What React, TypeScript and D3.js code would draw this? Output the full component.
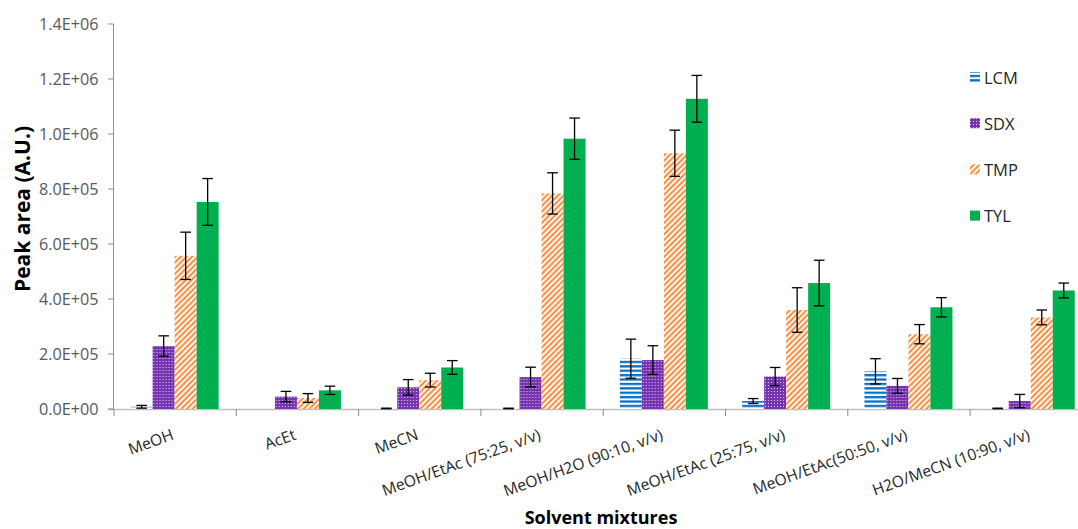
import React from "react";
import * as d3 from "d3";

// Solvent mixtures tested and the four analytes measured in each
const categories = [
  "MeOH",
  "AcEt",
  "MeCN",
  "MeOH/EtAc (75:25, v/v)",
  "MeOH/H2O (90:10, v/v)",
  "MeOH/EtAc (25:75, v/v)",
  "MeOH/EtAc(50:50, v/v)",
  "H2O/MeCN (10:90, v/v)",
];
const seriesNames = ["LCM", "SDX", "TMP", "TYL"];

// Mean peak areas (A.U.) per solvent mixture
const lcmValues = [8000, 0, 2000, 2000, 183000, 29000, 137000, 2000];
const sdxValues = [229000, 45000, 79000, 116000, 178000, 118000, 84000, 29000];
const tmpValues = [557000, 40000, 105000, 784000, 930000, 360000, 272000, 333000];
const tylValues = [753000, 68000, 151000, 983000, 1128000, 458000, 370000, 431000];

// Standard deviations (error bars)
const lcmErrors = [5000, 0, 1000, 1000, 71000, 9000, 46000, 1000];
const sdxErrors = [37000, 19000, 28000, 36000, 52000, 33000, 27000, 24000];
const tmpErrors = [86000, 16000, 25000, 75000, 84000, 81000, 35000, 27000];
const tylErrors = [85000, 15000, 25000, 75000, 85000, 83000, 35000, 27000];

const yTicks = [0, 200000, 400000, 600000, 800000, 1000000, 1200000, 1400000];

const seriesValues = [lcmValues, sdxValues, tmpValues, tylValues];
const seriesErrors = [lcmErrors, sdxErrors, tmpErrors, tylErrors];
const fills = ["url(#pat-lcm)", "url(#pat-sdx)", "url(#pat-tmp)", "#00b050"];

const WIDTH = 1078;
const HEIGHT = 529;
const left = 113.5;
const bottom = 409;
const top = 24;
const step = 122.3;

const FONT = "'Open Sans', 'Liberation Sans', sans-serif";

function sci(v: number): string {
  const [m, e] = v.toExponential(1).split("e");
  const sign = e[0] === "-" ? "-" : "+";
  const digits = e.replace(/[+-]/, "").padStart(2, "0");
  return `${m}E${sign}${digits}`;
}

export default function App() {
  const x = d3
    .scaleBand<string>()
    .domain(categories)
    .range([left, left + step * categories.length])
    .padding(0);
  const inner = d3
    .scaleBand<string>()
    .domain(seriesNames)
    .range([0, x.bandwidth()])
    .paddingInner(0)
    .paddingOuter(0.78);
  const y = d3.scaleLinear().domain([0, 1400000]).range([bottom, top]);
  const capHalf = 5.3;

  return (
    <svg
      width={WIDTH}
      height={HEIGHT}
      style={{ position: "absolute", left: 0, top: 0, background: "#fff" }}
    >
      <defs>
        <pattern id="pat-lcm" patternUnits="userSpaceOnUse" width={4} height={4.4}>
          <rect width={4} height={4.4} fill="#ffffff" />
          <rect width={4} height={2.3} fill="#0a70c2" />
        </pattern>
        <pattern id="pat-sdx" patternUnits="userSpaceOnUse" width={3} height={3}>
          <rect width={3} height={3} fill="#7634b0" />
          <rect x={1} y={1} width={1} height={1} fill="#dcc6ef" />
        </pattern>
        <pattern
          id="pat-tmp"
          patternUnits="userSpaceOnUse"
          width={4}
          height={4}
          patternTransform="rotate(45)"
        >
          <rect width={4} height={4} fill="#ffffff" />
          <rect width={2.2} height={4} fill="#f7924a" />
        </pattern>
      </defs>

      {/* axes */}
      <line x1={left} x2={left} y1={top} y2={bottom} stroke="#8c8c8c" strokeWidth={1} />
      <line x1={left - 5.5} x2={WIDTH} y1={bottom + 0.5} y2={bottom + 0.5} stroke="#bfbfbf" strokeWidth={1.5} />
      {yTicks.map((t) => (
        <g key={t}>
          <line x1={left - 5.5} x2={left} y1={y(t)} y2={y(t)} stroke="#8c8c8c" />
          <text
            x={98.5}
            y={y(t)}
            textAnchor="end"
            dominantBaseline="central"
            fontFamily={FONT}
            fontSize={16.2}
            fill="#595959"
          >
            {sci(t)}
          </text>
        </g>
      ))}
      {categories.map((c, i) => (
        <line
          key={"tick" + i}
          x1={(x(c) as number) + 0.5}
          x2={(x(c) as number) + 0.5}
          y1={bottom}
          y2={bottom + 7}
          stroke="#8c8c8c"
        />
      ))}

      {/* bars */}
      {categories.map((c, i) => (
        <g key={c} transform={`translate(${x(c)},0)`}>
          {seriesNames.map((s, k) => {
            const v = seriesValues[k][i];
            if (v <= 0) return null;
            const bx = inner(s) as number;
            const bw = inner.bandwidth();
            return (
              <rect
                key={s}
                x={bx}
                y={y(v)}
                width={bw}
                height={bottom - y(v)}
                fill={fills[k]}
              />
            );
          })}
          {seriesNames.map((s, k) => {
            const v = seriesValues[k][i];
            const e = seriesErrors[k][i];
            if (v <= 0 || e <= 0) return null;
            const cx = (inner(s) as number) + inner.bandwidth() / 2;
            const y1 = y(v + e);
            const y2 = y(v - e);
            return (
              <g key={"err" + s} stroke="#000" strokeWidth={1.3}>
                <line x1={cx} x2={cx} y1={y1} y2={y2} />
                <line x1={cx - capHalf} x2={cx + capHalf} y1={y1} y2={y1} />
                <line x1={cx - capHalf} x2={cx + capHalf} y1={y2} y2={y2} />
              </g>
            );
          })}
        </g>
      ))}

      {/* category labels */}
      {categories.map((c) => (
        <text
          key={"lab" + c}
          transform={`translate(${(x(c) as number) + x.bandwidth() / 2},439) rotate(-20)`}
          textAnchor="end"
          fontFamily={FONT}
          fontSize={15.7}
          fill="#262626"
        >
          {c}
        </text>
      ))}

      {/* axis titles */}
      <text
        transform="translate(22,209) rotate(-90)"
        textAnchor="middle"
        dominantBaseline="central"
        fontFamily={FONT}
        fontWeight="bold"
        fontSize={21}
        fill="#000"
      >
        Peak area (A.U.)
      </text>
      <text
        x={601}
        y={524}
        textAnchor="middle"
        fontFamily={FONT}
        fontWeight="bold"
        fontSize={18}
        fill="#000"
      >
        Solvent mixtures
      </text>

      {/* legend */}
      {seriesNames.map((s, k) => {
        const cy = 77 + k * 46.2;
        return (
          <g key={"leg" + s}>
            <rect x={970} y={cy - 5} width={10} height={10} fill={fills[k]} />
            <text
              x={984}
              y={cy}
              dominantBaseline="central"
              fontFamily={FONT}
              fontSize={16.5}
              fill="#262626"
            >
              {s}
            </text>
          </g>
        );
      })}
    </svg>
  );
}
